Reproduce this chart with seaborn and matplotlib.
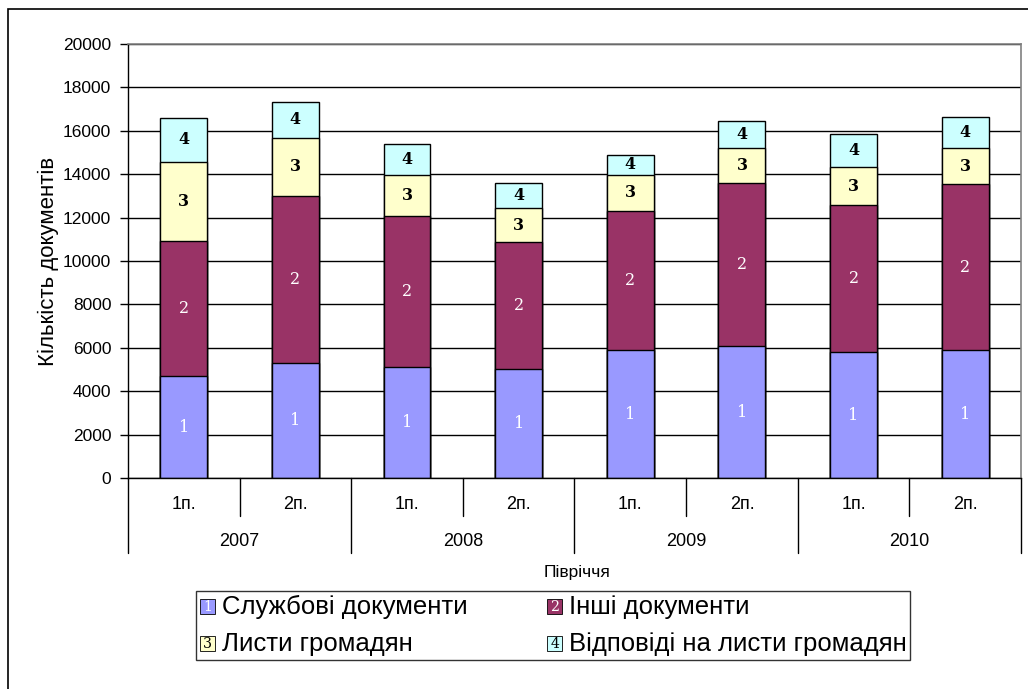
import numpy as np
import pandas as pd
import seaborn as sns
import matplotlib.pyplot as plt
import matplotlib.transforms as mtransforms
from matplotlib.patches import Rectangle
from matplotlib.text import Text
from matplotlib.legend_handler import HandlerPatch

# Data
periods = ["2007 1п.", "2007 2п.", "2008 1п.", "2008 2п.",
           "2009 1п.", "2009 2п.", "2010 1п.", "2010 2п."]
halves = ["1п.", "2п.", "1п.", "2п.", "1п.", "2п.", "1п.", "2п."]
years = ["2007", "2008", "2009", "2010"]
sluzhbovi = [4700, 5300, 5130, 5040, 5900, 6070, 5790, 5880]
inshi = [6240, 7700, 6930, 5840, 6420, 7510, 6790, 7650]
lysty = [3640, 2680, 1920, 1560, 1640, 1630, 1740, 1690]
vidpovidi = [2000, 1660, 1430, 1150, 940, 1240, 1550, 1420]

series_names = ["Службові документи", "Інші документи",
                "Листи громадян", "Відповіді на листи громадян"]
colors = ["#9999FF", "#993366", "#FFFFCC", "#CCFFFF"]
num_colors = ["white", "white", "black", "black"]

sns.set_style("white")
plt.rcParams['font.family'] = ['Liberation Sans', 'DejaVu Sans']
plt.rcParams.update({"text.color": "black", "axes.labelcolor": "black",
                     "xtick.color": "black", "ytick.color": "black"})

df = pd.DataFrame({"period": periods, "s1": sluzhbovi, "s2": inshi,
                   "s3": lysty, "s4": vidpovidi})
cols = ["s1", "s2", "s3", "s4"]
cum = df[cols].cumsum(axis=1)
for c in cols:
    df["cum_" + c] = cum[c]

fig = plt.figure(figsize=(10.28, 6.89), dpi=100)
ax = fig.add_axes([0.1245, 0.3062, 0.8687, 0.6299])

# stacked bars: draw totals first, then the lower stacks over them
for c, color in reversed(list(zip(cols, colors))):
    sns.barplot(data=df, x="period", y="cum_" + c, order=periods, color=color,
                saturation=1, width=0.42, edgecolor="black", linewidth=1,
                errorbar=None, ax=ax)

# segment numbers
for i in range(len(periods)):
    base = 0
    for k, c in enumerate(cols):
        v = df[c].iloc[i]
        ax.text(i, base + v / 2, str(k + 1), ha="center", va="center",
                fontsize=11.5, family="DejaVu Serif", color=num_colors[k],
                fontweight="bold" if k >= 2 else "normal")
        base += v

ax.set_ylim(0, 20000)
ax.set_xlim(-0.5, len(periods) - 0.5)
ax.set_yticks(np.arange(0, 20001, 2000))
ax.tick_params(axis="y", labelsize=12.5, length=6, width=1, color="black",
               labelcolor="black", direction="out", left=True, pad=6)
ax.tick_params(axis="x", length=0, labelbottom=False)
ax.set_xlabel("")
ax.set_ylabel("Кількість документів", fontsize=16, labelpad=3, color="black")
ax.yaxis.grid(True, color="black", linewidth=1)
ax.set_axisbelow(True)
for s in ["left", "bottom"]:
    ax.spines[s].set_color("black")
    ax.spines[s].set_linewidth(1)
for s in ["top", "right"]:
    ax.spines[s].set_color("#808080")
    ax.spines[s].set_linewidth(1.2)

# two-level category axis
trans = mtransforms.blended_transform_factory(ax.transData, ax.transAxes)
for i, h in enumerate(halves):
    ax.text(i, -0.062, h, transform=trans, ha="center", va="center", fontsize=13)
for j, y in enumerate(years):
    ax.text(2 * j + 0.5, -0.147, y, transform=trans, ha="center", va="center",
            fontsize=13)
for j in range(len(years)):
    ax.plot([2 * j + 0.5] * 2, [0, -0.088], transform=trans, clip_on=False,
            color="black", lw=1)
for j in range(len(years) + 1):
    ax.plot([2 * j - 0.5] * 2, [0, -0.173], transform=trans, clip_on=False,
            color="black", lw=1)
ax.text(0.503, -0.217, "Півріччя", transform=ax.transAxes, ha="center",
        va="center", fontsize=12.5)


class NumberedHandler(HandlerPatch):
    def __init__(self, num, txtcolor):
        super().__init__()
        self.num = num
        self.txtcolor = txtcolor

    def create_artists(self, legend, orig_handle, xdescent, ydescent,
                       width, height, fontsize, trans):
        s = height * 0.82
        x0 = -xdescent + width - s
        y0 = -ydescent + (height - s) / 2 - 1
        r = Rectangle((x0, y0), s, s, facecolor=orig_handle.get_facecolor(),
                      edgecolor="black", lw=0.6, transform=trans)
        t = Text(x0 + s / 2, y0 + s / 2 - 0.5, self.num, ha="center", va="center",
                 fontsize=fontsize * 0.55, color=self.txtcolor,
                 family="DejaVu Serif", transform=trans)
        return [r, t]


handles = [Rectangle((0, 0), 1, 1, facecolor=c) for c in colors]
hmap = {h: NumberedHandler(str(k + 1), num_colors[k]) for k, h in enumerate(handles)}
order = [0, 2, 1, 3]
leg = fig.legend([handles[k] for k in order], [series_names[k] for k in order],
                 handler_map=hmap, ncol=2, loc="center",
                 bbox_to_anchor=(0.538, 0.0922), fontsize=18.5, frameon=True,
                 fancybox=False, edgecolor="black", handlelength=0.6,
                 handletextpad=0.25, columnspacing=3.1, labelspacing=0.5,
                 borderpad=0.15, borderaxespad=0)
leg.get_frame().set_linewidth(1)

# outer chart frame
fig.patches.append(Rectangle((8 / 1028, -0.1), 2, 0.987 + 0.1,
                             transform=fig.transFigure, fill=False,
                             edgecolor="black", lw=1.2))

plt.savefig("out.png", dpi=100)
